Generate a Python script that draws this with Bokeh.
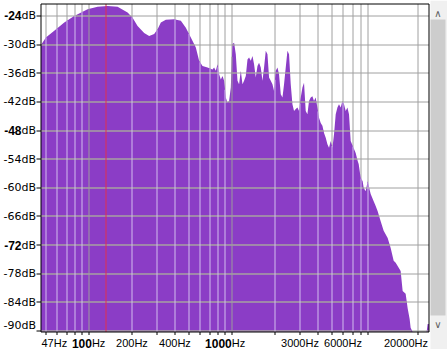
import numpy as np
from bokeh.plotting import figure
from bokeh.models import Range1d
from bokeh.embed import file_html
from bokeh.resources import INLINE
from bokeh.core.properties import value

# ---------------- data ----------------
freq_hz = [46.2, 46.7, 50.0, 57.2, 67.2, 78.9, 97.9, 115.0, 135.1, 158.7,
           186.5, 202.1, 219.1, 243.6, 264.1, 286.2, 302.3, 318.8, 345.5, 394.9,
           440.0, 476.9, 516.8, 560.1, 590.7, 624.0, 676.3, 732.8, 752.0, 772.9,
           794.3, 815.1, 837.7, 861.0, 883.5, 907.9, 933.1, 957.5, 984.0, 1011.3,
           1037.8, 1066.6, 1096.2, 1124.6, 1155.9, 1188.0, 1219.0, 1252.9, 1287.7, 1321.3,
           1358.0, 1395.8, 1431.9, 1471.7, 1512.4, 1551.9, 1595.1, 1639.4, 1682.2, 1728.9,
           1776.8, 1823.1, 1873.8, 1925.8, 1976.0, 2030.6, 2087.1, 2141.4, 2201.6, 2262.3,
           2321.1, 2385.4, 2451.7, 2515.8, 2585.7, 2657.4, 2727.0, 2803.6, 2880.9, 2955.3,
           3037.6, 3122.0, 3202.7, 3291.2, 3382.6, 3470.8, 3567.2, 3666.0, 3761.3, 3866.0,
           3973.3, 4077.1, 4191.9, 4308.1, 4421.3, 4543.2, 4669.7, 4791.9, 4925.0, 5061.7,
           5193.6, 5336.6, 5484.8, 5626.9, 5784.8, 5945.1, 6100.5, 6269.2, 6443.2, 6611.4,
           6794.4, 7130.3, 7363.6, 7603.6, 7727.3, 7979.8, 8240.6, 8374.6, 8648.3, 8933.7,
           9078.9, 9376.5, 9840.1, 10162, 10495, 11015, 11559, 12330, 12941, 13581,
           14027, 14483, 15198, 15445, 15696, 16473, 17012, 17567, 17853, 18437,
           19043, 23101, 23476, 24000]
level_db = [-29.9, -29.9, -28.5, -27.1, -25.4, -24.0, -22.6, -22.1, -21.9, -22.1,
            -23.3, -24.4, -26.1, -27.6, -28.2, -27.8, -26.8, -25.4, -24.8, -24.7,
            -25.0, -26.5, -28.5, -30.6, -33.4, -34.5, -34.8, -35.2, -34.8, -35.5,
            -34.1, -36.2, -37.3, -36.6, -37.6, -41.1, -42.2, -41.8, -39.0, -29.9,
            -29.6, -32.0, -37.6, -38.3, -35.5, -38.3, -37.6, -36.6, -33.1, -32.7,
            -33.4, -32.4, -34.1, -36.9, -34.5, -33.8, -34.8, -37.6, -34.8, -31.3,
            -32.0, -36.9, -37.6, -38.3, -39.7, -35.5, -34.8, -36.2, -40.4, -41.1,
            -38.3, -34.8, -31.3, -32.0, -38.3, -42.5, -43.9, -43.5, -43.2, -43.9,
            -41.1, -39.0, -38.0, -43.9, -44.6, -41.8, -41.1, -40.8, -41.8, -41.1,
            -43.2, -45.3, -46.4, -47.0, -48.5, -49.5, -50.9, -51.6, -50.2, -51.6,
            -48.8, -44.6, -43.2, -42.5, -43.2, -41.8, -42.5, -43.9, -43.2, -44.6,
            -50.2, -51.7, -52.7, -54.4, -55.0, -57.9, -58.6, -60.0, -60.7, -58.6,
            -59.6, -61.3, -62.8, -63.8, -64.9, -67.0, -69.0, -70.5, -72.6, -75.3,
            -75.7, -76.4, -77.4, -79.5, -81.6, -82.2, -85.2, -87.5, -89.3, -91.0,
            -91.0, -91.0, -88.5, -88.5]
assert len(freq_hz) == len(level_db)

db_ticks = [-24, -30, -36, -42, -48, -54, -60, -66, -72, -78, -84, -90]
db_major = [-24, -48, -72]
freq_grid = [50, 60, 70, 80, 90, 100, 200, 300, 400, 500, 600, 700, 800, 900,
             1000, 2000, 3000, 4000, 5000, 6000, 7000, 8000, 9000, 20000]
freq_major = [100, 1000]
freq_labelled = [200, 400, 3000, 6000, 20000]
first_freq_label = "47Hz"
cursor_hz = 131.5
x_lo, x_hi = 46.2, 24000
y_lo, y_hi = -90.2, -21.5

# ---------------- geometry (pixels) & styles ----------------
W, H = 447, 349
BOX_L, BOX_R, BOX_T, BOX_B = 40.5, 428.5, 3.5, 331.5
TICK_Y, TICK_X = 4.5, 3
YLAB_R, DB_SUFFIX_W = 35.5, 14.5
XLAB_MID, XBOLD_MID = 342.0, 342.5
BOLD_END = {100: 3, 1000: 0}
SB_L, SB_R, SB_THUMB_R, SB_TOP, SB_BOT = 430, 447, 445, 19, 315
SB_ARROW_X, SB_ARROW_UP, SB_ARROW_DN = 437.5, 12.5, 323.5

PURPLE = "#8b3dc6"
GRID_ON_WHITE = "#a0a0a0"
HGRID_ON_FILL = "#b4d48e"
VGRID_ON_FILL = "#d2bdee"
MAJOR_ON_FILL = "#9c9c9c"
CURSOR = "#e03050"
SCROLL_BG, SCROLL_THUMB, SCROLL_ARROW = "#f0f0f0", "#cdcdcd", "#606060"
FONT_Y = value("DejaVu Sans")
FONT_X = value("Liberation Sans")

LOG_LO, LOG_HI = np.log10(x_lo), np.log10(x_hi)
M = (LOG_HI - LOG_LO) / (BOX_R - BOX_L)      # decades per pixel
K = (y_hi - y_lo) / (BOX_B - BOX_T)          # dB per pixel

def fx(px): return 10 ** (LOG_LO + (px - BOX_L) * M)
def fy(py): return y_hi - (py - BOX_T) * K
def px_of(f): return BOX_L + (np.log10(f) - LOG_LO) / M
def py_of(d): return BOX_T + (y_hi - d) / K
def sx(f): return fx(np.floor(px_of(f)) + 0.5)    # pixel-crisp positions
def sy(d): return fy(np.floor(py_of(d)) + 0.5)

p = figure(width=W, height=H, x_axis_type="log",
           x_range=Range1d(fx(0), fx(W)), y_range=Range1d(fy(H), fy(0)),
           output_backend="svg", toolbar_location=None, min_border=0,
           x_axis_location=None, y_axis_location=None)
p.grid.visible = False
p.outline_line_color = None
p.background_fill_color = "white"
p.border_fill_color = "white"

gx = [sx(f) for f in freq_grid]
gy = [sy(d) for d in db_ticks]

# grey grid (seen on white)
p.segment(x0=gx, y0=[y_lo] * len(gx), x1=gx, y1=[y_hi] * len(gx), line_color=GRID_ON_WHITE, line_width=1)
p.segment(x0=[x_lo] * len(gy), y0=gy, x1=[x_hi] * len(gy), y1=gy, line_color=GRID_ON_WHITE, line_width=1)

# spectrum
p.varea(x=freq_hz, y1=y_lo, y2=np.maximum(np.array(level_db), y_lo), fill_color=PURPLE, fill_alpha=1)

# grid as seen over the filled area
lx = np.log10(np.array(freq_hz, dtype=float))
ly = np.array(level_db, dtype=float)

def runs_above(level):
    segs, start = [], (lx[0] if ly[0] > level else None)
    for i in range(1, len(lx)):
        a0, a1 = ly[i - 1] > level, ly[i] > level
        if a0 != a1:
            t = (level - ly[i - 1]) / (ly[i] - ly[i - 1])
            xc = lx[i - 1] + t * (lx[i] - lx[i - 1])
            if a1:
                start = xc
            else:
                segs.append((start, xc))
                start = None
    if start is not None:
        segs.append((start, lx[-1]))
    return segs

def curve_at(f):
    lf = np.log10(f)
    for i in range(1, len(lx)):
        if lx[i - 1] <= lf <= lx[i]:
            t = (lf - lx[i - 1]) / (lx[i] - lx[i - 1])
            return ly[i - 1] + t * (ly[i] - ly[i - 1])
    return y_lo

hx0, hx1, hy = [], [], []
for yv in gy:
    for s, e in runs_above(yv):
        hx0.append(10 ** s); hx1.append(10 ** e); hy.append(yv)
p.segment(x0=hx0, y0=hy, x1=hx1, y1=hy, line_color=HGRID_ON_FILL, line_width=1)

vtop = [min(max(curve_at(x), y_lo), y_hi) for x in gx]
vcol = [MAJOR_ON_FILL if f in freq_major else VGRID_ON_FILL for f in freq_grid]
p.segment(x0=gx, y0=[y_lo] * len(gx), x1=gx, y1=vtop, line_color=vcol, line_width=1)

# cursor
cx = sx(cursor_hz)
p.segment(x0=[cx], y0=[y_lo], x1=[cx], y1=[y_hi], line_color=CURSOR, line_width=1)

# plot box and tick marks
p.quad(left=[x_lo], right=[x_hi], bottom=[y_lo], top=[y_hi], fill_color=None, line_color="black", line_width=1)
p.segment(x0=[fx(BOX_L - TICK_Y)] * len(gy), y0=gy, x1=[x_lo] * len(gy), y1=gy, line_color="black", line_width=1)
p.segment(x0=gx, y0=[y_lo] * len(gx), x1=gx, y1=[fy(BOX_B + TICK_X)] * len(gx), line_color="black", line_width=1)

# dB labels
reg_db = [d for d in db_ticks if d not in db_major and d != db_ticks[-1]]
p.text(x=[fx(YLAB_R)] * len(reg_db), y=reg_db, text=[f"{d}dB" for d in reg_db],
       text_font=FONT_Y, text_font_size="11px", text_align="right", text_baseline="middle", text_color="black")
p.text(x=[fx(YLAB_R)], y=[y_lo], text=[f"{db_ticks[-1]}dB"],
       text_font=FONT_Y, text_font_size="11px", text_align="right", text_baseline="bottom", text_color="black")
p.text(x=[fx(YLAB_R)] * len(db_major), y=db_major, text=["dB"] * len(db_major),
       text_font=FONT_Y, text_font_size="11px", text_align="right", text_baseline="middle", text_color="black")
p.text(x=[fx(YLAB_R - DB_SUFFIX_W)] * len(db_major), y=db_major, text=[str(d) for d in db_major],
       text_font=FONT_X, text_font_style="bold", text_font_size="12px", text_align="right",
       text_baseline="middle", text_color="black")

# frequency labels
mid = [f for f in freq_labelled if f != freq_grid[-1]]
p.text(x=mid, y=[fy(XLAB_MID)] * len(mid), text=[f"{f}Hz" for f in mid],
       text_font=FONT_X, text_font_size="11px", text_align="center", text_baseline="middle", text_color="black")
p.text(x=[fx(BOX_R - 1)], y=[fy(XLAB_MID)], text=[f"{freq_grid[-1]}Hz"],
       text_font=FONT_X, text_font_size="11px", text_align="right", text_baseline="middle", text_color="black")
p.text(x=[fx(BOX_L + 0.5)], y=[fy(XLAB_MID)], text=[first_freq_label],
       text_font=FONT_X, text_font_size="11px", text_align="left", text_baseline="middle", text_color="black")
for f in freq_major:
    xb = fx(px_of(f) + BOLD_END[f])
    p.text(x=[xb], y=[fy(XBOLD_MID)], text=[str(f)], text_font=FONT_X, text_font_style="bold",
           text_font_size="12px", text_align="right", text_baseline="middle", text_color="black")
    p.text(x=[xb], y=[fy(XLAB_MID)], text=["Hz"], text_font=FONT_X, text_font_size="11px",
           text_align="left", text_baseline="middle", text_color="black")

# scrollbar at the right edge
p.quad(left=[fx(SB_L)], right=[fx(SB_R)], top=[fy(0)], bottom=[fy(H)], fill_color=SCROLL_BG, line_color=None)
p.quad(left=[fx(SB_L)], right=[fx(SB_THUMB_R)], top=[fy(SB_TOP)], bottom=[fy(SB_BOT)],
       fill_color=SCROLL_THUMB, line_color=None)
p.text(x=[fx(SB_ARROW_X)] * 2, y=[fy(SB_ARROW_UP), fy(SB_ARROW_DN)], text=["∧", "∨"],
       text_font=value("DejaVu Sans"), text_font_size="10px", text_align="center",
       text_baseline="middle", text_color=SCROLL_ARROW)

open("out.html", "w").write(file_html(p, INLINE))
